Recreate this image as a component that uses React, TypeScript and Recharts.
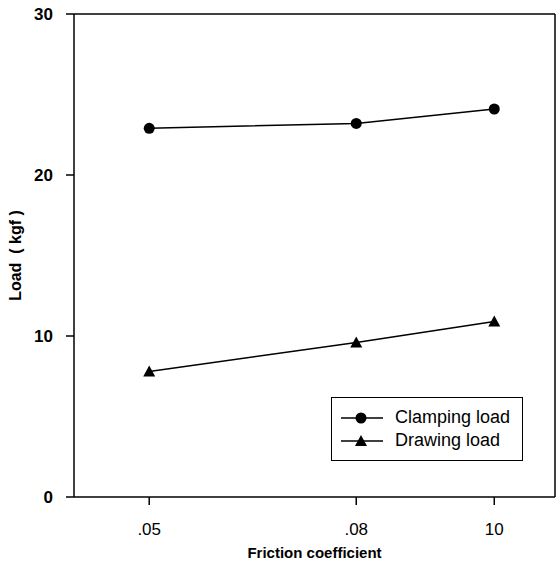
import {
  LineChart,
  Line,
  XAxis,
  YAxis,
  ReferenceLine,
  Legend,
  Label,
} from "recharts";

const frictionCoefficients = [0.05, 0.08, 0.1];
const clampingLoad = [22.9, 23.2, 24.1];
const drawingLoad = [7.8, 9.6, 10.9];
const yTicks = [0, 10, 20, 30];
const xTicks = [0.05, 0.08, 0.1];
const xTickLabels: Record<string, string> = {
  "0.05": ".05",
  "0.08": ".08",
  "0.1": "10",
};

const data = frictionCoefficients.map((f, i) => ({
  f,
  clamping: clampingLoad[i],
  drawing: drawingLoad[i],
}));

const FONT = "Arial, 'Liberation Sans', Helvetica, sans-serif";

function Triangle(props: any) {
  const { cx, cy } = props;
  if (cx == null || cy == null) return null;
  return (
    <path
      d={`M${cx},${cy - 6}L${cx + 6},${cy + 5}L${cx - 6},${cy + 5}Z`}
      fill="#000"
    />
  );
}

function LegendBox({ payload }: any) {
  return (
    <div
      style={{
        border: "1.5px solid #000",
        padding: "8px 0 10px 9px",
        background: "#fff",
        fontFamily: FONT,
        fontSize: 18,
        lineHeight: "23px",
        boxSizing: "border-box",
        width: 192,
        height: 64,
      }}
    >
      {(payload || []).map((p: any) => (
        <div key={p.value} style={{ display: "flex", alignItems: "center" }}>
          <svg width={46} height={14} style={{ marginRight: 8 }}>
            <line x1={0} y1={7} x2={42} y2={7} stroke="#000" strokeWidth={1.5} />
            {p.dataKey === "clamping" ? (
              <circle cx={20} cy={7} r={5.5} fill="#000" />
            ) : (
              <path d="M20,1L26,12L14,12Z" fill="#000" />
            )}
          </svg>
          <span>{p.value}</span>
        </div>
      ))}
    </div>
  );
}

export default function App() {
  return (
    <div
      style={{
        position: "absolute",
        left: 0,
        top: 0,
        width: 558,
        height: 568,
        background: "#fff",
      }}
    >
      <LineChart
        width={558}
        height={568}
        data={data}
        margin={{ top: 14, right: 3, bottom: 0, left: 0 }}
      >
        <XAxis
          dataKey="f"
          type="number"
          domain={[0.0391, 0.1088]}
          ticks={xTicks}
          tickFormatter={(v: number) => xTickLabels[String(v)] ?? String(v)}
          height={71}
          tickSize={8}
          tickMargin={18}
          stroke="#000"
          strokeWidth={1.5}
          tick={{ fill: "#000", fontSize: 17, fontFamily: FONT }}
        >
          <Label
            content={({ viewBox }: any) => (
              <text
                x={viewBox.x + viewBox.width / 2}
                y={558}
                textAnchor="middle"
                fontFamily={FONT}
                fontWeight="bold"
                fontSize={15}
                fill="#000"
              >
                Friction coefficient
              </text>
            )}
          />
        </XAxis>
        <YAxis
          type="number"
          domain={[0, 30]}
          ticks={yTicks}
          width={74}
          tickSize={8}
          tickMargin={13}
          stroke="#000"
          strokeWidth={1.5}
          tick={{ fill: "#000", fontSize: 17, fontWeight: "bold", fontFamily: FONT }}
        >
          <Label
            content={({ viewBox }: any) => {
              const x = 21;
              const y = viewBox.y + viewBox.height / 2;
              return (
                <text
                  x={x}
                  y={y}
                  transform={`rotate(-90 ${x} ${y})`}
                  textAnchor="middle"
                  fontFamily={FONT}
                  fontWeight="bold"
                  fontSize={16}
                  fill="#000"
                >
                  {"Load\u00a0\u00a0(\u00a0kgf\u00a0)"}
                </text>
              );
            }}
          />
        </YAxis>
        <ReferenceLine y={30} stroke="#000" strokeWidth={1.5} />
        <ReferenceLine x={0.1088} stroke="#000" strokeWidth={1.5} />
        <Line
          dataKey="clamping"
          name="Clamping load"
          stroke="#000"
          strokeWidth={1.5}
          dot={{ r: 5.5, fill: "#000", stroke: "#000", strokeWidth: 0 }}
          isAnimationActive={false}
        />
        <Line
          dataKey="drawing"
          name="Drawing load"
          stroke="#000"
          strokeWidth={1.5}
          dot={<Triangle />}
          isAnimationActive={false}
        />
        <Legend
          layout="vertical"
          align="center"
          verticalAlign="middle"
          content={<LegendBox />}
          wrapperStyle={{ left: 331, top: 397, width: 192, height: 64 }}
        />
      </LineChart>
    </div>
  );
}
